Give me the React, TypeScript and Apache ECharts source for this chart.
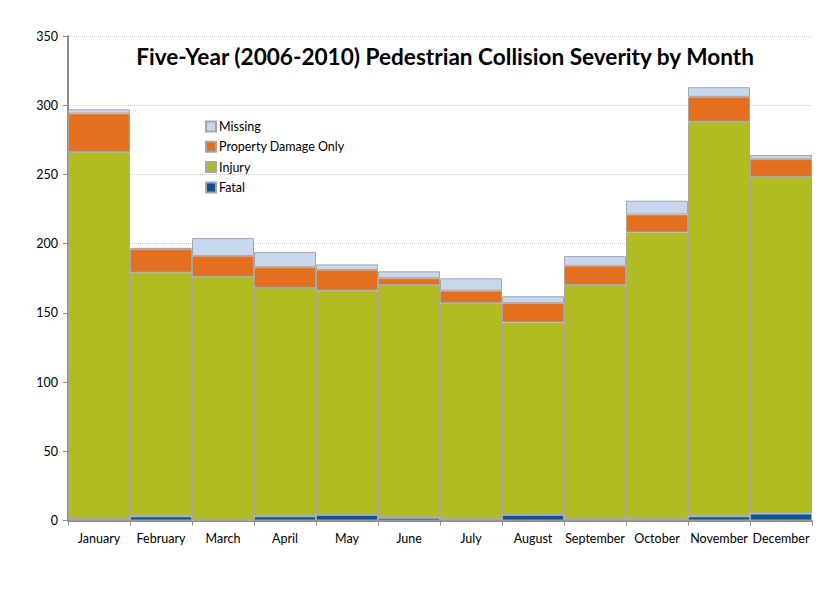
import React, { useEffect, useRef } from "react";
import * as echarts from "echarts";

const months = ["January", "February", "March", "April", "May", "June", "July", "August", "September", "October", "November", "December"];
const fatal = [1, 3, 0, 3, 4, 2, 1, 4, 1, 1, 3, 5];
const injury = [265, 176, 176, 165, 162, 168, 156, 139, 169, 207, 285, 243];
const propertyDamageOnly = [28, 17, 15, 15, 15, 5, 9, 14, 14, 13, 18, 13];
const missing = [3, 1, 13, 11, 4, 5, 9, 5, 7, 10, 7, 3];

const FONT = "Lato";

export default function App() {
  const ref = useRef<HTMLDivElement>(null);
  useEffect(() => {
    if (!ref.current) return;
    const chart = echarts.init(ref.current, undefined, { renderer: "svg" });
    const border = { borderColor: "#a6a6a6", borderWidth: 1 };
    const mk = (name: string, data: number[], color: string) => ({
      name,
      type: "bar",
      stack: "total",
      data,
      barCategoryGap: "0%",
      itemStyle: { color, ...border },
    });
    chart.setOption({
      animation: false,
      backgroundColor: "#ffffff",
      title: {
        text: "Five-Year (2006-2010) Pedestrian Collision Severity by Month",
        left: 440,
        textAlign: "center",
        top: 40,
        textStyle: { fontFamily: FONT, fontWeight: "bold", fontSize: 22.6, color: "#000000" },
      },
      legend: {
        orient: "vertical",
        left: 200,
        top: 115,
        itemWidth: 10,
        itemHeight: 10,
        itemGap: 7.3,
        icon: "rect",
        textStyle: { fontFamily: FONT, fontSize: 12.5, color: "#000000", padding: [0, 0, 0, -2] },
        data: ["Missing", "Property Damage Only", "Injury", "Fatal"],
      },
      grid: { left: 68, right: 28, top: 36, bottom: 74.5, containLabel: false },
      xAxis: {
        type: "category",
        data: months,
        axisLine: { lineStyle: { color: "#8c8c8c", width: 2 } },
        axisTick: { show: true, length: 5, lineStyle: { color: "#8c8c8c" } },
        axisLabel: { fontFamily: FONT, fontSize: 12.5, color: "#000000", margin: 11, interval: 0 },
      },
      yAxis: {
        type: "value",
        min: 0,
        max: 350,
        interval: 50,
        axisLine: { show: true, lineStyle: { color: "#8c8c8c", width: 2 } },
        axisTick: { show: true, length: 5, lineStyle: { color: "#8c8c8c" } },
        axisLabel: { fontFamily: FONT, fontSize: 12.5, color: "#000000", margin: 10 },
        splitLine: { lineStyle: { color: "#c8c8c8", type: "dotted", width: 1 } },
      },
      series: [
        mk("Fatal", fatal, "#0b5394"),
        mk("Injury", injury, "#b1bc23"),
        mk("Property Damage Only", propertyDamageOnly, "#e4701f"),
        mk("Missing", missing, "#c6d7ee"),
      ],
    });
    return () => chart.dispose();
  }, []);
  return <div ref={ref} style={{ position: "fixed", left: 0, top: 0, width: 840, height: 595 }} />;
}
